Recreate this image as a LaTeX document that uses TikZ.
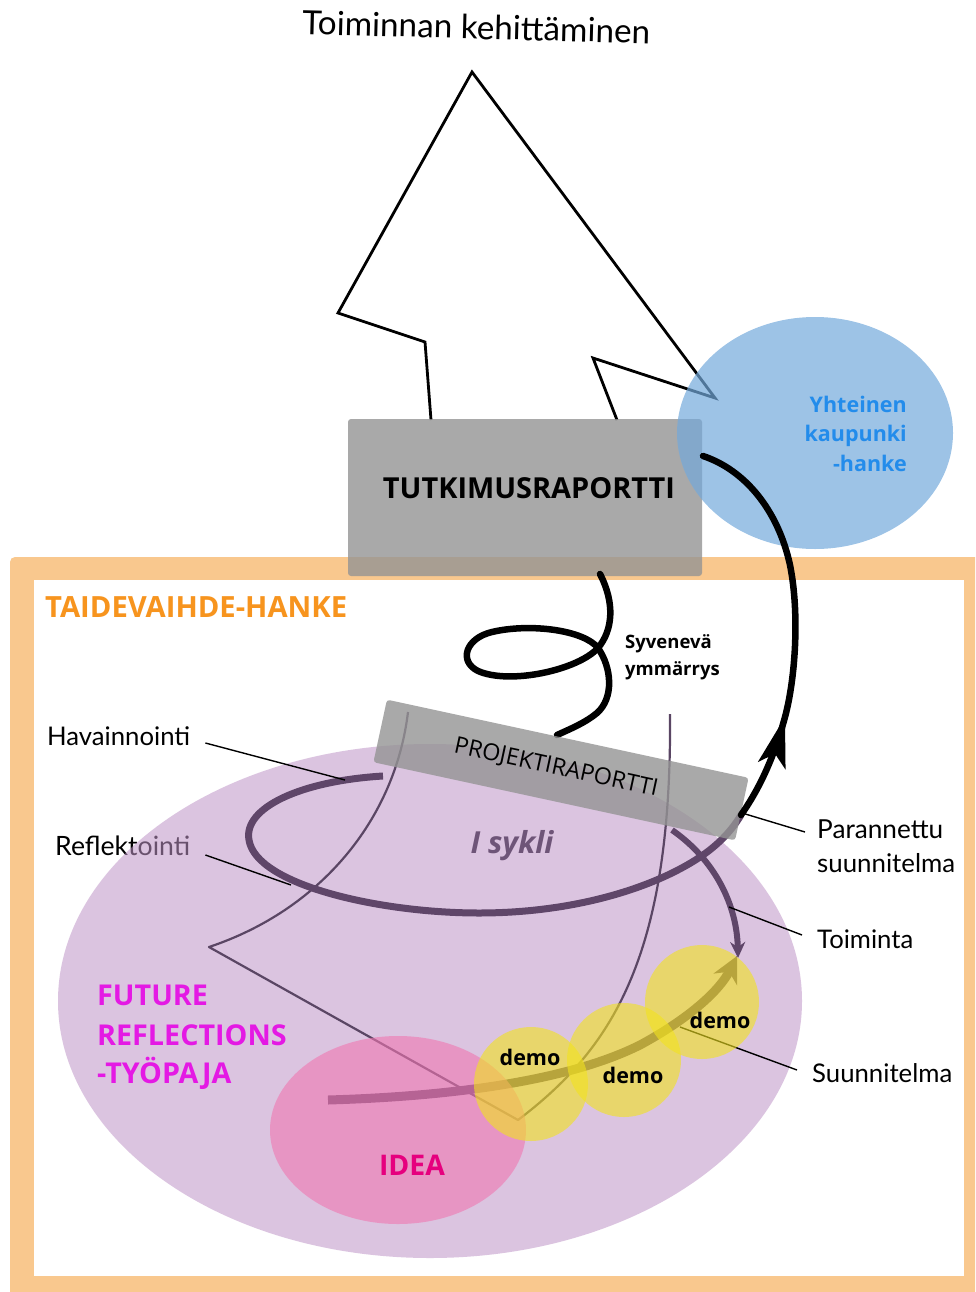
\documentclass[tikz,border=0pt]{standalone}
\usepackage{fontspec}
\setmainfont{Open Sans}
\newfontfamily\gill{Lato}
\usepackage{graphicx}
\usetikzlibrary{arrows.meta,shapes.geometric}
\definecolor{bandorange}{RGB}{249,200,142}
\definecolor{titleorange}{RGB}{247,148,30}
\definecolor{boxgray}{RGB}{148,148,148}
\definecolor{cityblue}{RGB}{115,169,219}
\definecolor{citytext}{RGB}{35,140,235}
\definecolor{lilac}{RGB}{191,148,199}
\definecolor{loopdark}{RGB}{95,70,105}
\definecolor{funnel}{RGB}{90,70,100}
\definecolor{ideapink}{RGB}{240,119,177}
\definecolor{ideatext}{RGB}{230,0,126}
\definecolor{demoyellow}{RGB}{242,227,30}
\definecolor{fuchsia}{RGB}{228,25,228}
\definecolor{syklitext}{RGB}{110,85,120}
\newcommand{\fitw}[2]{\resizebox{#1pt}{!}{#2}}
\begin{document}
\begin{tikzpicture}[x=1pt,y=-1pt,line join=round,
  lbl/.style={font=\gill\fontsize{26}{30}\selectfont, text=black, inner sep=0pt},
  heavy/.style={font=\bfseries, inner sep=0pt},
  leader/.style={draw=black, line width=1.4pt},
  funnelline/.style={draw=funnel, line width=2.2pt},
  loopline/.style={draw=loopdark, line width=7pt},
  inkline/.style={draw=black, line width=6.5pt, line cap=round},
  reportbox/.style={fill=boxgray, fill opacity=0.8, text opacity=1, rounded corners=3pt, inner sep=0pt},
  democircle/.style={circle, fill=demoyellow, fill opacity=0.6, minimum size=114pt, inner sep=0pt},
  demotext/.style={font=\bfseries\fontsize{21.5}{26}\selectfont, inner sep=0pt, anchor=base},
]
\useasboundingbox (0,0) rectangle (975,1292);

% project frame
\fill[bandorange] (10,1292) [rounded corners=5pt] -- (10,557) [sharp corners] -- (975,557) -- (975,1292) -- cycle;
\fill[white] (34,580) rectangle (964,1276);
\node[heavy, anchor=base west, text=titleorange] (taide) at (45,617) {\fitw{302}{TAIDEVAIHDE-HANKE}};

% title and big arrow
\node[lbl, anchor=base, rotate=-1.5] (title) at (476,39) {\fitw{348}{Toiminnan kehittäminen}};
\draw[line width=2.8pt, line join=miter] (431,420) -- (425,342) -- (338,313) -- (472,72) -- (715,398) -- (593,358) -- (617,420);

% research report
\node[reportbox, minimum width=354pt, minimum height=157pt] (tut) at (525,497.5) {};
\node[heavy, anchor=base] (tuttext) at (529,498) {\fitw{292}{TUTKIMUSRAPORTTI}};

% city project
\node[ellipse, fill=cityblue, fill opacity=0.7, minimum width=276pt, minimum height=232pt, inner sep=0pt] (city) at (815,433) {};
\node[anchor=base east, text=citytext, inner sep=0pt, font=\bfseries\fontsize{21.5}{26}\selectfont] (city1) at (907,412) {Yhteinen};
\node[anchor=base east, text=citytext, inner sep=0pt, font=\bfseries\fontsize{21.5}{26}\selectfont] (city2) at (907,441) {kaupunki};
\node[anchor=base east, text=citytext, inner sep=0pt, font=\bfseries\fontsize{21.5}{26}\selectfont] (city3) at (907,471) {-hanke};

% left labels (under the lilac ellipse)
\node[lbl, anchor=base west] (hav) at (47,745) {\fitw{143}{Havainnointi}};
\node[lbl, anchor=base west] (refl) at (55,855) {\fitw{135}{Reflektointi}};

% workshop ellipse
\node[ellipse, fill=lilac, fill opacity=0.55, minimum width=744pt, minimum height=514pt, inner sep=0pt] (work) at (430,1001) {};

% funnel lines
\draw[funnelline] (408,712) .. controls (395,820) and (320,910) .. (209,947) -- (518,1120) .. controls (610,1050) and (672,960) .. (670,714);

% cycle loop
\coordinate (loopstart) at (383,776);
\coordinate (plan2) at (741,815);
\coordinate (actstart) at (672,830);
\coordinate (acttip) at (738,958);
\coordinate (ideastart) at (328,1100);
\coordinate (plantip) at (737,956);
\draw[loopline] (loopstart) .. controls (300,781) and (243,808) .. (249,840) .. controls (256,885) and (380,913) .. (479,913) .. controls (580,913) and (660,885) .. (703,855) .. controls (720,843) and (732,830) .. (plan2);
\draw[loopline, line width=6pt, -{Stealth[length=16pt,width=15pt]}] (actstart) .. controls (715,860) and (737,905) .. (acttip);
\draw[loopline, line width=9pt, -{Stealth[length=26pt,width=26pt]}] (ideastart) .. controls (430,1097) and (560,1085) .. (640,1045) .. controls (690,1018) and (720,990) .. (plantip);

% deepening understanding spiral
\coordinate (spiraltop) at (600,574);
\coordinate (spiralend) at (557,735);
\draw[inkline] (spiraltop) .. controls (615,603) and (613,630) .. (598,648) .. controls (578,670) and (510,685) .. (478,671) .. controls (458,661) and (466,638) .. (492,632) .. controls (530,623) and (584,630) .. (598,648) .. controls (612,668) and (614,698) .. (597,713) .. controls (585,723) and (570,729) .. (spiralend);
\node[anchor=base west, inner sep=0pt, font=\bfseries\fontsize{18.5}{24}\selectfont] (syv1) at (625,648) {Syvenevä};
\node[anchor=base west, inner sep=0pt, font=\bfseries\fontsize{18.5}{24}\selectfont] (syv2) at (625,675) {ymmärrys};

% project report
\node[reportbox, rotate=-12.2, minimum width=370pt, minimum height=64pt] (proj) at (561,770) {};
\node[rotate=-12.2, inner sep=0pt, font=\fontsize{22}{26}\selectfont] (projtext) at (556,768) {\fitw{208}{PROJEKTIRAPORTTI}};

% improved plan arrow to city project
\coordinate (arrowtip) at (785,717);
\coordinate (arrowbase) at (776,750);
\coordinate (cityin) at (703,456);
\draw[inkline] (plan2) .. controls (755,795) and (772,765) .. (arrowtip) .. controls (795,680) and (800,615) .. (790,565) .. controls (778,510) and (745,470) .. (cityin);
\draw[line width=6.5pt, -{Stealth[length=50pt,width=28pt,inset=12pt]}] (arrowbase) -- (arrowtip);

% idea ellipse
\node[ellipse, fill=ideapink, fill opacity=0.6, minimum width=256pt, minimum height=188pt, inner sep=0pt] (idea) at (398,1130) {};

% right labels and leaders
\node[lbl, anchor=base west] (par1) at (817,838) {\fitw{126}{Parannettu}};
\node[lbl, anchor=base west] (par2) at (817,872) {\fitw{138}{suunnitelma}};
\node[lbl, anchor=base west] (toim) at (817,948) {\fitw{96}{Toiminta}};
\node[lbl, anchor=base west] (suun) at (812,1082) {\fitw{140}{Suunnitelma}};
\coordinate (havpt) at (345,780);
\coordinate (reflpt) at (291,885);
\coordinate (parpt) at (742,813);
\coordinate (toimpt) at (729,907);
\coordinate (suunpt) at (680,1027);
\draw[leader] ([xshift=15pt,yshift=2pt]hav.base east) -- (havpt);
\draw[leader] ([xshift=15pt]refl.base east) -- (reflpt);
\draw[leader] ([xshift=-12pt,yshift=6pt]par1.base west) -- (parpt);
\draw[leader] ([xshift=-15pt,yshift=13pt]toim.base west) -- (toimpt);
\draw[leader] ([xshift=-15pt,yshift=12pt]suun.base west) -- (suunpt);

% demos
\node[democircle] (d1) at (531,1084) {};
\node[democircle] (d2) at (624,1060) {};
\node[democircle] (d3) at (702,1002) {};
\node[demotext] (t1) at (530,1065) {demo};
\node[demotext] (t2) at (633,1083) {demo};
\node[demotext] (t3) at (720,1028) {demo};

% other texts
\node[heavy, anchor=base, text=ideatext] (ideat) at (412,1175) {\fitw{66}{IDEA}};
\node[anchor=base west, inner sep=0pt, text=fuchsia, font=\bfseries\fontsize{28.7}{34}\selectfont] (fr1) at (97,1005) {FUTURE};
\node[anchor=base west, inner sep=0pt, text=fuchsia, font=\bfseries\fontsize{28.7}{34}\selectfont] (fr2) at (97,1045) {REFLECTIONS};
\node[anchor=base west, inner sep=0pt, text=fuchsia, font=\bfseries\fontsize{28.7}{34}\selectfont] (fr3) at (97,1083) {-TYÖPAJA};
\node[anchor=base, inner sep=0pt, text=syklitext, font=\bfseries\itshape] (sykli) at (512,853) {\fitw{83}{I sykli}};
\end{tikzpicture}
\end{document}
